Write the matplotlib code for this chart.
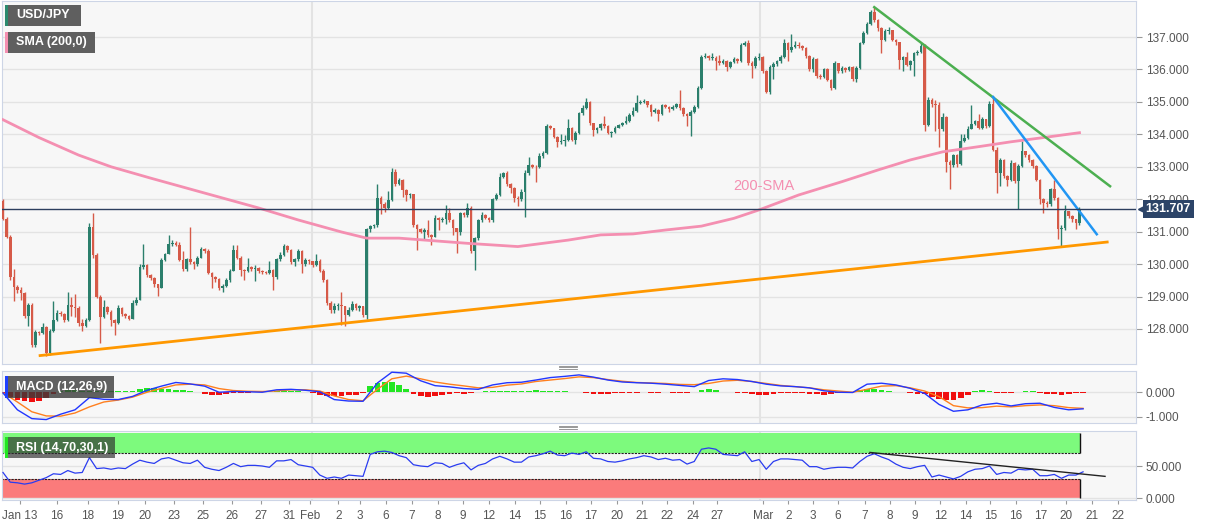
import numpy as np
from matplotlib import pyplot as plt
from matplotlib.patches import Rectangle
from matplotlib.lines import Line2D

plt.rcParams['font.family'] = ['Liberation Sans', 'DejaVu Sans']

# ---- 4h candles, USD/JPY (close / high / low), open = previous close ----
first_open = 131.95
closes = [131.40, 130.85, 129.60, 129.30, 129.20, 129.10, 128.40, 128.74, 127.50, 127.92,
          127.87, 128.05, 127.25, 127.95, 128.28, 128.50, 128.45, 128.28, 128.74, 128.68,
          128.65, 128.18, 128.10, 128.28, 131.14, 130.28, 129.00, 128.38, 128.67, 128.53,
          128.28, 128.18, 128.64, 128.46, 128.40, 128.32, 128.80, 128.90, 129.92, 129.97,
          129.67, 129.58, 129.38, 129.26, 130.13, 130.31, 130.62, 130.66, 130.60, 130.13,
          129.84, 130.15, 130.05, 130.00, 130.20, 130.45, 130.40, 129.72, 129.60, 129.55,
          129.26, 129.33, 129.50, 129.80, 130.43, 130.20, 129.82, 129.78, 129.90, 129.84,
          129.88, 129.78, 129.76, 129.74, 129.82, 129.60, 130.15, 130.28, 130.55, 130.42,
          130.06, 130.15, 130.40, 130.00, 130.12, 130.08, 129.96, 130.10, 129.80, 129.50,
          128.80, 128.60, 128.70, 128.75, 128.70, 128.44, 128.60, 128.78, 128.65, 128.70,
          128.44, 131.07, 131.17, 131.20, 132.05, 131.85, 131.72, 131.98, 132.85, 132.48,
          132.58, 132.28, 132.12, 132.15, 131.20, 131.07, 131.00, 131.05, 130.89, 130.85,
          131.43, 131.35, 131.40, 131.58, 131.37, 131.12, 131.00, 131.58, 131.50, 131.74,
          130.40, 130.80, 131.35, 131.50, 131.42, 131.35, 132.02, 132.12, 132.69, 132.80,
          132.46, 132.35, 132.05, 132.00, 132.23, 132.80, 133.05, 133.00, 132.98, 133.33,
          133.43, 134.26, 134.20, 133.93, 133.77, 133.80, 133.83, 134.19, 133.82, 134.05,
          134.65, 134.80, 135.00, 134.34, 134.13, 134.18, 134.32, 134.25, 134.05, 134.08,
          134.20, 134.28, 134.35, 134.41, 134.60, 134.73, 134.96, 135.00, 135.02, 134.90,
          134.70, 134.75, 134.62, 134.90, 134.85, 134.78, 134.85, 134.92, 134.80, 134.63,
          134.58, 134.70, 134.83, 135.42, 136.38, 136.42, 136.35, 136.36, 136.26, 136.20,
          136.27, 136.09, 136.22, 136.33, 136.26, 136.76, 136.80, 136.20, 136.11, 136.35,
          136.38, 135.94, 135.32, 136.09, 136.18, 136.25, 136.38, 136.80, 136.59, 136.69,
          136.76, 136.72, 136.66, 136.42, 136.01, 136.33, 135.80, 135.76, 136.01, 135.68,
          135.43, 136.20, 135.94, 136.04, 135.99, 136.08, 135.70, 136.04, 136.80, 137.12,
          137.40, 137.76, 137.53, 137.28, 136.92, 137.20, 137.22, 136.92, 136.84, 136.30,
          136.38, 136.15, 136.25, 136.50, 136.55, 136.72, 134.30, 135.07, 134.95, 134.90,
          134.15, 134.52, 133.14, 133.05, 133.35, 133.07, 133.80, 133.90, 134.17, 134.33,
          134.40, 134.20, 134.46, 134.25, 134.92, 133.53, 132.81, 133.20, 132.70, 132.60,
          133.12, 132.56, 133.02, 133.48, 133.35, 133.22, 133.02, 132.60, 132.00, 131.87,
          131.85, 132.30, 132.04, 131.07, 131.12, 131.63, 131.48, 131.38, 131.27, 131.707]
highs = [132.00, 131.45, 130.90, 129.85, 129.35, 129.30, 129.15, 128.80, 128.80, 127.97,
         127.95, 128.17, 128.10, 128.00, 128.85, 128.60, 128.55, 128.50, 129.15, 128.97,
         129.07, 128.72, 128.30, 128.35, 131.26, 131.57, 130.35, 129.05, 128.90, 128.70,
         128.60, 128.30, 128.75, 128.68, 128.50, 128.42, 128.90, 129.00, 130.00, 130.62,
         130.00, 129.70, 129.60, 129.40, 130.20, 130.35, 130.90, 130.75, 130.70, 130.69,
         130.40, 130.20, 131.13, 130.08, 130.25, 130.52, 130.50, 130.45, 129.75, 129.62,
         129.58, 129.40, 129.58, 129.85, 130.60, 130.60, 130.25, 129.85, 130.20, 129.93,
         129.98, 129.90, 129.82, 129.80, 130.10, 129.86, 130.20, 130.38, 130.62, 130.60,
         130.48, 130.20, 130.45, 130.42, 130.18, 130.15, 130.10, 130.32, 130.15, 129.85,
         129.55, 128.85, 128.80, 128.80, 129.15, 128.72, 128.68, 128.85, 128.80, 128.75,
         128.72, 131.12, 131.20, 131.25, 132.46, 132.10, 131.90, 132.25, 132.95, 132.92,
         132.65, 132.62, 132.30, 132.20, 132.15, 131.25, 131.10, 131.10, 131.35, 130.92,
         131.50, 131.45, 131.45, 131.81, 131.74, 131.38, 131.12, 131.62, 131.60, 131.87,
         131.80, 130.85, 131.40, 131.60, 131.55, 131.45, 132.05, 132.20, 132.80, 132.85,
         132.88, 132.50, 132.38, 132.10, 132.30, 132.90, 133.30, 133.10, 133.05, 133.43,
         133.50, 134.32, 134.30, 134.20, 133.95, 134.00, 133.98, 134.47, 134.22, 134.10,
         134.70, 134.90, 135.11, 135.02, 134.36, 134.22, 134.36, 134.56, 134.28, 134.10,
         134.25, 134.32, 134.38, 134.57, 134.65, 134.84, 135.22, 135.05, 135.10, 135.02,
         134.92, 134.80, 134.78, 134.95, 134.95, 134.88, 134.90, 134.97, 135.37, 134.83,
         134.66, 134.75, 134.90, 135.48, 136.45, 136.50, 136.45, 136.50, 136.42, 136.45,
         136.32, 136.30, 136.26, 136.38, 136.36, 136.83, 136.88, 136.92, 136.25, 136.40,
         136.50, 136.40, 135.98, 136.15, 136.22, 136.30, 136.45, 136.95, 136.85, 137.10,
         136.88, 136.85, 136.75, 136.70, 136.45, 136.38, 136.36, 135.85, 136.06, 136.05,
         135.72, 136.25, 136.20, 136.10, 136.08, 136.12, 136.10, 136.10, 136.85, 137.20,
         137.45, 137.82, 137.92, 137.55, 137.30, 137.25, 137.30, 137.22, 136.95, 136.86,
         136.42, 136.55, 136.30, 136.55, 136.60, 136.80, 136.78, 135.15, 135.12, 135.05,
         135.00, 134.65, 134.55, 133.20, 133.40, 133.38, 134.00, 134.00, 134.25, 134.90,
         134.45, 134.62, 134.52, 134.48, 135.02, 135.17, 133.60, 133.28, 133.25, 132.75,
         133.20, 133.15, 133.10, 133.80, 133.50, 133.38, 133.25, 133.05, 132.62, 132.05,
         131.95, 132.35, 132.60, 132.08, 131.20, 131.83, 131.65, 131.50, 131.40, 131.75]
lows = [131.35, 130.80, 129.50, 128.85, 129.10, 128.90, 128.35, 128.10, 127.45, 127.45,
        127.80, 127.85, 127.18, 127.20, 127.90, 128.25, 128.40, 128.20, 128.25, 128.40,
        128.38, 128.10, 127.95, 128.05, 128.25, 130.20, 128.95, 127.56, 128.35, 128.45,
        128.10, 127.80, 128.15, 128.40, 128.35, 128.28, 128.30, 128.75, 128.88, 129.85,
        129.60, 129.50, 129.30, 129.02, 129.25, 130.10, 130.30, 130.55, 130.55, 130.10,
        129.78, 129.80, 130.00, 129.84, 129.95, 130.18, 130.35, 129.68, 129.26, 129.45,
        129.20, 129.13, 129.30, 129.45, 129.78, 130.15, 129.62, 129.52, 129.75, 129.80,
        129.48, 129.72, 129.70, 129.68, 129.70, 129.20, 129.55, 130.10, 130.25, 130.38,
        130.00, 129.95, 130.10, 129.72, 129.95, 130.00, 129.90, 129.95, 129.75, 129.45,
        128.75, 128.50, 128.50, 128.60, 128.13, 128.10, 128.40, 128.55, 128.60, 128.55,
        128.38, 128.30, 131.00, 131.10, 131.15, 131.55, 131.62, 131.70, 131.95, 132.40,
        132.45, 132.07, 131.95, 132.05, 131.15, 130.44, 130.95, 130.75, 130.85, 130.60,
        130.82, 131.05, 131.30, 131.25, 131.30, 130.90, 130.33, 130.90, 131.45, 131.45,
        130.35, 129.82, 130.75, 131.30, 131.38, 131.30, 131.30, 131.98, 132.10, 132.65,
        132.40, 132.20, 131.90, 131.78, 131.95, 131.45, 132.75, 132.95, 132.52, 132.95,
        133.28, 133.40, 134.15, 133.88, 133.60, 133.70, 133.65, 133.80, 133.78, 133.70,
        134.00, 134.60, 134.78, 134.30, 133.95, 134.05, 134.12, 134.20, 134.00, 133.93,
        134.05, 134.18, 134.25, 134.32, 134.38, 134.55, 134.70, 134.92, 134.96, 134.85,
        134.55, 134.65, 134.40, 134.60, 134.80, 134.70, 134.75, 134.82, 134.75, 134.55,
        134.26, 133.95, 134.65, 134.80, 135.40, 136.35, 136.30, 136.30, 135.98, 136.15,
        136.18, 135.94, 136.05, 136.20, 136.20, 136.22, 136.72, 136.15, 135.74, 136.05,
        136.30, 135.90, 135.27, 135.25, 135.70, 136.12, 136.20, 136.35, 136.26, 136.55,
        136.65, 136.66, 136.60, 136.35, 135.95, 135.93, 135.75, 135.70, 135.74, 135.63,
        135.37, 135.40, 135.90, 135.90, 135.92, 135.95, 135.65, 135.60, 136.00, 136.78,
        137.08, 137.38, 137.45, 137.20, 136.50, 136.88, 137.10, 136.88, 136.75, 136.00,
        135.95, 136.10, 135.98, 135.80, 136.45, 136.50, 134.10, 134.25, 134.85, 134.10,
        133.60, 134.10, 132.83, 132.30, 133.00, 133.00, 133.05, 133.75, 133.85, 134.15,
        134.28, 134.15, 134.15, 134.20, 134.22, 133.48, 132.20, 132.40, 132.65, 132.40,
        132.55, 132.50, 131.70, 132.98, 133.30, 133.15, 132.95, 132.55, 131.85, 131.58,
        131.75, 131.80, 131.98, 130.76, 130.57, 131.05, 131.42, 131.30, 131.07, 131.22]

# 200 SMA read at some candles
sma_idx = [0, 10, 21, 30, 41, 55, 71, 82, 94, 101, 110, 129, 143, 157, 166, 175,
           184, 194, 203, 210, 221, 233, 243, 252, 261, 271, 280, 289, 299]
sma_val = [134.45, 133.90, 133.36, 133.00, 132.65, 132.22, 131.73, 131.36, 130.99, 130.80,
           130.80, 130.64, 130.54, 130.74, 130.90, 130.93, 131.05, 131.17, 131.41, 131.67,
           132.13, 132.54, 132.90, 133.21, 133.46, 133.62, 133.77, 133.90, 134.05]

# MACD (12,26,9): lines read every 4 candles, histogram every 2 candles
macd_step = 4
macd_line = [-0.03, -0.72, -1.08, -1.12, -0.9, -0.72, -0.22, -0.29, -0.3, -0.17,
             0.08, 0.25, 0.4, 0.34, 0.25, 0.0, 0.03, 0.02, 0.0, 0.1,
             0.12, 0.08, 0.02, -0.3, -0.36, -0.37, 0.38, 0.82, 0.78, 0.47,
             0.27, 0.22, 0.15, 0.12, 0.3, 0.39, 0.41, 0.5, 0.6, 0.65,
             0.71, 0.62, 0.5, 0.42, 0.39, 0.37, 0.33, 0.28, 0.23, 0.48,
             0.55, 0.52, 0.44, 0.33, 0.26, 0.23, 0.18, 0.06, 0.0, -0.01,
             0.33, 0.37, 0.3, 0.16, -0.05, -0.5, -0.78, -0.72, -0.52, -0.45,
             -0.56, -0.47, -0.45, -0.62, -0.72, -0.68]
signal_line = [-0.02, -0.4, -0.8, -0.97, -0.98, -0.85, -0.6, -0.4, -0.32, -0.2,
               0.0, 0.16, 0.3, 0.33, 0.3, 0.15, 0.07, 0.04, 0.03, 0.05,
               0.1, 0.1, 0.05, -0.15, -0.3, -0.35, 0.12, 0.55, 0.66, 0.55,
               0.42, 0.33, 0.26, 0.18, 0.2, 0.29, 0.34, 0.44, 0.5, 0.56,
               0.63, 0.6, 0.52, 0.45, 0.4, 0.38, 0.36, 0.32, 0.31, 0.36,
               0.46, 0.49, 0.44, 0.36, 0.28, 0.23, 0.18, 0.1, 0.05, 0.0,
               0.12, 0.25, 0.27, 0.18, 0.05, -0.18, -0.55, -0.64, -0.63, -0.57,
               -0.6, -0.55, -0.52, -0.55, -0.63, -0.66]
hist_step = 2
macd_hist = [-0.05, -0.2, -0.31, -0.35, -0.38, -0.36, -0.22, -0.08, 0.06, 0.08,
             0.08, 0.05, 0.04, 0.05, 0.04, 0.05, 0.05, 0.04, 0.06, 0.14,
             0.16, 0.16, 0.14, 0.12, 0.1, 0.08, 0.04, 0.02, -0.06, -0.11,
             -0.11, -0.09, -0.03, -0.02, -0.02, 0.01, 0.01, 0.02, 0.05, 0.07,
             0.07, 0.06, 0.03, -0.03, -0.1, -0.15, -0.15, -0.14, -0.13, -0.12,
             -0.05, 0.25, 0.38, 0.42, 0.4, 0.3, 0.15, -0.08, -0.15, -0.18,
             -0.16, -0.12, -0.08, -0.05, -0.06, -0.04, 0.03, 0.05, 0.05, 0.06,
             0.05, 0.04, 0.06, 0.07, 0.08, 0.06, 0.05, 0.04, 0.04, 0.03,
             0.02, -0.04, -0.06, -0.07, -0.07, -0.05, -0.02, -0.02, -0.02, 0.01,
             -0.02, -0.02, -0.01, -0.03, -0.04, -0.05, 0.02, 0.1, 0.12, 0.08,
             0.02, 0.01, -0.02, -0.04, -0.09, -0.1, -0.1, -0.06, -0.03, -0.02,
             -0.02, -0.03, -0.06, -0.09, -0.1, -0.08, -0.04, -0.01, 0.02, 0.08,
             0.12, 0.12, 0.09, 0.06, 0.03, 0.01, -0.04, -0.06, -0.08, -0.2,
             -0.28, -0.32, -0.3, -0.24, -0.12, 0.04, 0.08, 0.06, -0.04, -0.05,
             -0.03, 0.03, 0.05, 0.04, -0.04, -0.06, -0.08, -0.1, -0.06, -0.05,
             -0.04]

# RSI (14) read every 2 candles
rsi_step = 2
rsi_vals = [40, 25, 24, 22, 24, 28, 32, 38, 37, 43,
            39, 40, 63, 46, 47, 45, 47, 46, 53, 59,
            56, 54, 61, 63, 59, 55, 54, 59, 48, 45,
            43, 48, 54, 49, 51, 51, 50, 48, 58, 58,
            60, 52, 50, 48, 36, 31, 33, 31, 36, 35,
            34, 68, 72, 73, 71, 66, 63, 52, 50, 49,
            55, 54, 48, 52, 55, 44, 51, 54, 61, 65,
            61, 56, 56, 64, 66, 69, 73, 67, 66, 70,
            68, 72, 62, 61, 57, 56, 58, 61, 63, 66,
            64, 60, 62, 59, 60, 53, 57, 76, 78, 76,
            68, 67, 66, 72, 57, 60, 45, 57, 61, 61,
            60, 59, 49, 49, 45, 47, 48, 48, 47, 57,
            65, 69, 64, 60, 53, 48, 46, 49, 51, 33,
            36, 33, 30, 34, 41, 45, 46, 50, 37, 40,
            39, 45, 44, 45, 35, 35, 37, 31, 36, 36,
            41]

# trend lines (candle index, value)
support = [(10.3, 127.18), (306.7, 130.68)]
resist_long = [(242.0, 137.92), (307.5, 132.40)]
resist_short = [(275.0, 135.15), (303.8, 130.92)]
rsi_trend = [(240.8, 71.0), (306.1, 34.0)]
last_price = 131.707

# x-axis labels (candle index positions)
tick_pos = [4.7, 15.0, 23.6, 31.9, 39.4, 47.5, 55.6, 63.6, 71.7, 79.4, 85.3, 93.1, 99.2,
            106.4, 113.6, 120.8, 127.8, 135.0, 142.2, 149.2, 156.4, 163.3, 170.6, 177.5,
            184.4, 191.7, 198.3, 211.1, 218.1, 225.0, 231.9, 239.4, 246.4, 253.3, 260.3,
            267.5, 274.2, 281.4, 288.3, 295.3, 302.5, 309.7]
tick_lab = ['Jan 13', '16', '18', '19', '20', '23', '25', '26', '27', '31', 'Feb', '2', '3',
            '6', '7', '8', '9', '12', '14', '15', '16', '17', '20', '21', '22', '24', '27',
            'Mar', '2', '3', '6', '7', '8', '9', '12', '14', '15', '16', '17', '20', '21', '22']
month_lines = [85.8, 210.3]

UP = '#2b7f6c'
DOWN = '#d65a48'
GRID = '#e3e3e3'
BORDER = '#cdd5e6'
TXT = '#555555'

W, H = 1207, 526
fig = plt.figure(figsize=(W / 100, H / 100), dpi=100)
fig.patch.set_facecolor('white')


def panel(top, bottom):
    a = fig.add_axes([2 / W, 1 - bottom / H, 1134 / W, (bottom - top) / H])
    a.set_facecolor('#f7f7f7')
    for s in a.spines.values():
        s.set_color(BORDER)
    a.yaxis.tick_right()
    a.tick_params(axis='y', length=4, color='#999999', labelsize=8.5, labelcolor=TXT, pad=3)
    a.tick_params(axis='x', length=0, labelbottom=False)
    a.set_xlim(-0.28, 314.7)
    a.yaxis.set_major_formatter(plt.FormatStrFormatter('%.3f'))
    for m in month_lines:
        a.axvline(m, color=GRID, lw=1.5, zorder=0)
    return a


ax = panel(1, 364)
ax_macd = panel(371, 423)
ax_rsi = panel(431, 500)

# ---- main candles ----
c = np.array(closes)
o = np.r_[first_open, c[:-1]]
idx = np.arange(len(c))
cols = np.where(c >= o, UP, DOWN)
ax.vlines(idx, lows, highs, colors=cols, lw=1, zorder=3)
body = np.maximum(np.abs(c - o), 0.025)
ax.bar(idx, body, bottom=np.minimum(o, c), width=0.72, color=cols, zorder=4)

ax.set_ylim(126.92, 138.11)
ax.set_yticks(range(128, 138))
ax.grid(axis='y', color=GRID, lw=1, zorder=0)

ax.plot(sma_idx, sma_val, color='#f48fb1', lw=2, zorder=5)
ax.text(211.4, 132.41, '200-SMA', color='#f48fb1', fontsize=10.5, ha='center', va='center')
ax.plot(*zip(*support), color='#ff9800', lw=2, zorder=6)
ax.plot(*zip(*resist_long), color='#4caf50', lw=1.8, zorder=6)
ax.plot(*zip(*resist_short), color='#2196f3', lw=1.8, zorder=6)
ax.axhline(last_price, color='#2c3e5e', lw=1, zorder=6)

# last price tag
ax.text(1.0085, last_price, '%.3f' % last_price, transform=ax.get_yaxis_transform(),
        color='white', fontsize=9, fontweight='bold', va='center', ha='left', zorder=10,
        bbox=dict(boxstyle='square,pad=0.25', fc='#2c4468', ec='none'), clip_on=False)
ax.plot([1.004], [last_price], marker='<', ms=5, color='#2c4468',
        transform=ax.get_yaxis_transform(), clip_on=False, zorder=10)

# ---- MACD ----
line_idx = np.arange(len(macd_line)) * macd_step
hist_idx = np.arange(len(macd_hist)) * hist_step
hist = np.array(macd_hist)
ax_macd.bar(hist_idx, hist, width=1.6, color=np.where(hist >= 0, '#22e622', '#f01010'), zorder=2)
ax_macd.plot(line_idx, signal_line, color='#ff7f1e', lw=1, zorder=3)
ax_macd.plot(line_idx, macd_line, color='#2236ff', lw=1, zorder=4)
ax_macd.set_ylim(-1.26, 0.87)
ax_macd.set_yticks([0, -1])
ax_macd.grid(axis='y', color=GRID, lw=1, zorder=0)

# ---- RSI ----
last_x = len(c) - 1 + 0.2
ax_rsi.set_ylim(-2.6, 104.2)
ax_rsi.set_yticks([0, 50])
ax_rsi.grid(axis='y', color=GRID, lw=1, zorder=0)
ax_rsi.add_patch(Rectangle((-0.5, 70), last_x + 0.5, 31, fc='#7dfa7d', ec='none', zorder=1))
ax_rsi.add_patch(Rectangle((-0.5, 0), last_x + 0.5, 30, fc='#fb7b7b', ec='none', zorder=1))
ax_rsi.hlines([70, 30], -0.5, last_x, colors='#222222', lw=0.8, linestyles=(0, (2, 1)), zorder=2)
ax_rsi.vlines([last_x, last_x], [0, 70], [30, 101], colors='#111111', lw=1, zorder=2)
rsi_idx = np.arange(len(rsi_vals)) * rsi_step
ax_rsi.plot(rsi_idx, rsi_vals, color='#2a3cf0', lw=0.9, zorder=4)
ax_rsi.plot(*zip(*rsi_trend), color='#222222', lw=1, zorder=5)
ax_rsi.set_xticks(tick_pos)
ax_rsi.set_xticklabels(tick_lab)
ax_rsi.tick_params(axis='x', length=3, color='#999999', labelbottom=True, labelsize=8.5,
                   labelcolor=TXT, pad=4)


# ---- legend boxes (pixel boxes on the figure) ----
def box(x0, y0, x1, y1, fc, accent, text, alpha=1.0):
    fig.add_artist(Rectangle((x0 / W, 1 - y1 / H), (x1 - x0) / W, (y1 - y0) / H,
                             transform=fig.transFigure, fc=fc, ec='none', alpha=alpha))
    fig.add_artist(Rectangle((x0 / W, 1 - y1 / H), 2.5 / W, (y1 - y0) / H,
                             transform=fig.transFigure, fc=accent, ec='none'))
    fig.text((x0 + 11) / W, 1 - (y0 + y1) / 2 / H, text, color='white', fontsize=9,
             fontweight='bold', va='center', ha='left')


box(5, 5, 81, 26, '#5f5f5f', '#2b8a6e', 'USD/JPY')
box(5, 32, 95, 53, '#5f5f5f', '#f48fb1', 'SMA (200,0)')
box(5, 376, 114, 398, '#3a3a3a', '#1e40ff', 'MACD (12,26,9)', alpha=0.8)
box(5, 437, 115, 458, '#2a2a2a', '#22e622', 'RSI (14,70,30,1)', alpha=0.65)

# little drag handles between the panels
for yy in (367, 427):
    for k in (-1.5, 0, 1.5):
        fig.add_artist(Line2D([559 / W, 577 / W], [1 - (yy + k) / H] * 2,
                              transform=fig.transFigure, color='#888888', lw=0.6))

plt.savefig('out.png', dpi=100)
